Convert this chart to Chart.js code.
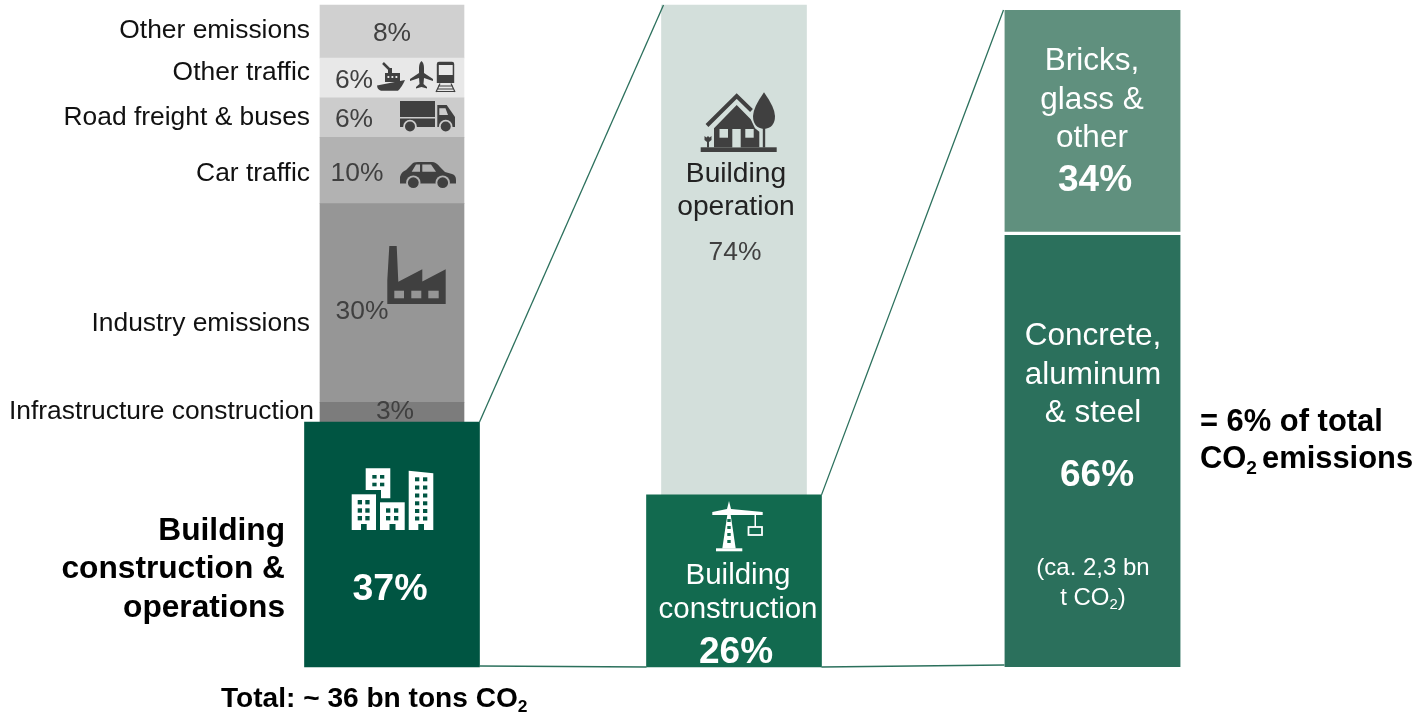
<!DOCTYPE html>
<html lang="en">
<head>
  <meta charset="UTF-8">
  <title>Building construction CO2 share</title>
  <style>
    html, body { margin: 0; background: #fff; }
    canvas { display: block; }
  </style>
  <script src="https://cdn.jsdelivr.net/npm/chart.js"></script>
</head>
<body>
  <canvas id="chart" width="1417" height="714"></canvas>

  <script>
    // data
    const totalCategories = ['Building construction & operations', 'Infrastructure construction', 'Industry emissions', 'Car traffic', 'Road freight & buses', 'Other traffic', 'Other emissions'];
    const totalValues = [37, 3, 30, 10, 6, 6, 8];
    const buildingCategories = ['Building construction', 'Building operation'];
    const buildingValues = [26, 74];
    const materialCategories = ['Concrete, aluminum & steel', 'Bricks, glass & other'];
    const materialValues = [66, 34];

    const totalColors = ['#005542', '#7c7c7c', '#969696', '#b2b2b2', '#cccccc', '#e8e8e8', '#d0d0d0'];
    const buildingColors = ['#126a4f', '#d3dfdb'];
    const materialColors = ['#2b705c', '#60907e'];
    const lineColor = '#2b705c';
    const iconColor = '#404040';
    const font = '"Liberation Sans", Arial, sans-serif';

    const ctx = document.getElementById('chart').getContext('2d');

    const datasets = [];
    totalValues.forEach((v, i) => datasets.push({
      label: totalCategories[i],
      data: [{ x: 392, y: v }],
      backgroundColor: totalColors[i],
      barThickness: i === 0 ? 175 : 144,
      yAxisID: 'y'
    }));
    buildingValues.forEach((v, i) => datasets.push({
      label: buildingCategories[i],
      data: [{ x: 734, y: v }],
      backgroundColor: buildingColors[i],
      barThickness: i === 0 ? 175 : 145,
      yAxisID: 'y'
    }));
    materialValues.forEach((v, i) => datasets.push({
      label: materialCategories[i],
      data: [{ x: 1092.5, y: v }],
      backgroundColor: materialColors[i],
      barThickness: 176,
      borderColor: '#fff',
      borderWidth: i === 0 ? { top: 2 } : { bottom: 2 },
      borderSkipped: false,
      yAxisID: 'y2'
    }));

    function text(c, s, x, y, size, color, bold, align) {
      c.font = (bold ? 'bold ' : '') + size + 'px ' + font;
      c.fillStyle = color;
      c.textAlign = align || 'center';
      c.textBaseline = 'middle';
      c.fillText(s, x, y + size * 0.06);
    }

    // text followed by a subscript 2
    function textSub(c, before, after, x, y, size, color, bold, align) {
      const weight = bold ? 'bold ' : '';
      c.font = weight + size + 'px ' + font;
      const w1 = c.measureText(before).width;
      const w3 = c.measureText(after).width;
      c.font = weight + size * 0.62 + 'px ' + font;
      const w2 = c.measureText('2').width;
      let left = x;
      if (align === 'center') left = x - (w1 + w2 + w3) / 2;
      text(c, before, left, y, size, color, bold, 'left');
      text(c, '2', left + w1, y + size * 0.3, size * 0.62, color, bold, 'left');
      if (after) text(c, after, left + w1 + w2, y, size, color, bold, 'left');
    }

    function rect(c, x0, y0, x1, y1, color) {
      c.fillStyle = color;
      c.fillRect(x0, y0, x1 - x0, y1 - y0);
    }

    function fillPath(c, d, color) {
      c.fillStyle = color;
      c.fill(new Path2D(d));
    }

    function strokePath(c, d, color, width) {
      c.strokeStyle = color;
      c.lineWidth = width;
      c.stroke(new Path2D(d));
    }

    function drawTransportIcons(c) {
      // ship
      fillPath(c, 'M377 85.5L405 80Q402 87 398 90.7L381 90.7Q377.5 90 377 85.5Z', iconColor);
      rect(c, 385, 73, 400, 82, iconColor);
      rect(c, 388, 68, 392, 74, iconColor);
      strokePath(c, 'M383 63L389 69', iconColor, 2.5);
      [387.5, 391.5, 395.5].forEach(x => rect(c, x, 76, x + 1.8, 78, '#e8e8e8'));
      // plane
      fillPath(c, 'M421.5 61Q424 63 424 68L424 73L433 79L433 81L424 78L423.5 84L427 87L427 88.5L421.5 87L416 88.5L416 87L419.5 84L419 78L410 81L410 79L419 73L419 68Q419 63 421.5 61Z', iconColor);
      // train
      fillPath(c, 'M439 61.7L452 61.7Q454.2 61.7 454.2 64L454.2 83L436.8 83L436.8 64Q436.8 61.7 439 61.7Z', iconColor);
      rect(c, 438.8, 65, 452.7, 75, '#e8e8e8');
      strokePath(c, 'M440 83.5L436 92M451 83.5L455 92M438 86L453 86M437 89L454 89M436 91.5L455 91.5', iconColor, 1.2);
      // truck
      rect(c, 400, 101, 435, 117, iconColor);
      rect(c, 400, 118.5, 435, 127, iconColor);
      fillPath(c, 'M437.3 105L446.7 105L455 117L455 127L437.3 127Z', iconColor);
      fillPath(c, 'M439.3 108.3L445.5 108.3L448 115L439.3 115Z', '#cccccc');
      [[410, 126.5], [445.7, 126.5]].forEach(p => {
        c.beginPath(); c.arc(p[0], p[1], 6.8, 0, 7); c.fillStyle = '#cccccc'; c.fill();
        c.beginPath(); c.arc(p[0], p[1], 5, 0, 7); c.fillStyle = iconColor; c.fill();
      });
      // car
      fillPath(c, 'M400 183.5L400 177Q401 172 406 170L412 164Q413 162 418 162L432 162Q436 162 440 167L445 172L452 174Q456 175 456 180L456 183.5Z', iconColor);
      fillPath(c, 'M411.7 171.7L416 164.5L420 164.5L420 171.7Z', '#b2b2b2');
      fillPath(c, 'M422.3 164.5L431 164.5L436 171.7L422.3 171.7Z', '#b2b2b2');
      [[413.3, 182.7], [442.7, 182.7]].forEach(p => {
        c.beginPath(); c.arc(p[0], p[1], 7.2, 0, 7); c.fillStyle = '#b2b2b2'; c.fill();
        c.beginPath(); c.arc(p[0], p[1], 5.4, 0, 7); c.fillStyle = iconColor; c.fill();
      });
    }

    function drawFactory(c) {
      fillPath(c, 'M389.3 246L396.7 246L398.3 281.7L422.3 269.3L422.3 281.5L445.7 269.3L445.7 304L387.3 304L387.3 280Z', iconColor);
      [[394.3, 404], [411.3, 421.3], [428.3, 438.7]].forEach(w => rect(c, w[0], 290.7, w[1], 298.3, '#969696'));
    }

    function drawBuildings(c) {
      const white = '#fff';
      const dark = '#005542';
      const win = (cols, rows, h) => cols.forEach(x => rows.forEach(y => rect(c, x, y, x + 4.3, y + h, dark)));
      fillPath(c, 'M365.7 468.3L390.3 468.3L390.3 498.3L381 498.3L381 490L365.7 490Z', white);
      win([372.3, 380], [475, 482.7], 3.6);
      rect(c, 351.7, 494.3, 376, 530, white);
      win([357.7, 365.3], [500, 508.3, 516], 4.4);
      rect(c, 361, 524, 366.7, 530, dark);
      rect(c, 380, 502.3, 404.7, 530, white);
      win([386, 394], [508.3, 516], 4.4);
      rect(c, 389.5, 524, 395.5, 530, dark);
      fillPath(c, 'M408.7 470.7L433.3 473.3L433.3 530L408.7 530Z', white);
      win([415, 423], [477.3, 485.5, 493.5, 501.3, 509, 516.5], 4);
      rect(c, 418.3, 524, 424, 530, dark);
    }

    function drawHouse(c) {
      const bg = '#d3dfdb';
      rect(c, 700.7, 147.3, 776.7, 152, iconColor);
      strokePath(c, 'M707 125.5L736.7 96L751.5 110.5', iconColor, 4);
      fillPath(c, 'M714 128.3L736.7 105L750.7 119.3L755 128.3L759.3 131.7L759.3 147.3L714 147.3Z', iconColor);
      rect(c, 719.5, 129, 728, 137.7, bg);
      rect(c, 732.3, 129, 740.7, 147.3, bg);
      rect(c, 745.3, 129, 753.7, 137.7, bg);
      fillPath(c, 'M764 92.3Q775 108 775 116Q775 128 764 129Q753 128 753 116Q753 108 764 92.3Z', iconColor);
      rect(c, 762.8, 125, 765.2, 147.5, iconColor);
      fillPath(c, 'M704.5 136L706.5 137.5L708 136L709.5 137.5L711.5 136L711.5 140L709 142L709 147.5L707 147.5L707 142L704.5 140Z', iconColor);
    }

    function drawCrane(c) {
      const white = '#fff';
      fillPath(c, 'M729 501L731 509L762.7 512L762.7 515L712.3 515L712.3 512L727 509Z', white);
      fillPath(c, 'M727.3 515L730.7 515L735.7 548.5L722.3 548.5Z', white);
      [519, 526, 533, 540].forEach(y => rect(c, 727.3, y, 730.7, y + 3, '#126a4f'));
      rect(c, 716, 548.3, 742.3, 551.3, white);
      rect(c, 754.5, 514, 756, 527, white);
      c.strokeStyle = white;
      c.lineWidth = 1.8;
      c.strokeRect(748.5, 527, 13.5, 8);
    }

    const overlay = {
      id: 'overlay',
      afterDatasetsDraw(chart) {
        const c = chart.ctx;
        const bar = i => chart.getDatasetMeta(i).data[0].getProps(['x', 'y', 'base', 'width'], true);
        const total0 = bar(0);
        const build0 = bar(7);
        const build1 = bar(8);
        const mat0 = bar(9);
        const mat1 = bar(10);
        const right = b => b.x + b.width / 2;
        const left = b => b.x - b.width / 2;

        c.save();

        // connectors between the columns
        c.strokeStyle = lineColor;
        c.lineWidth = 1.3;
        [
          [right(total0), total0.y, left(build1) + 2, build1.y],
          [right(total0), total0.base - 1, left(build0), build0.base],
          [right(build0), build0.y, left(mat1) - 1, mat1.y],
          [right(build0), build0.base, left(mat0), mat0.base - 2]
        ].forEach(l => {
          c.beginPath();
          c.moveTo(l[0], l[1]);
          c.lineTo(l[2], l[3]);
          c.stroke();
        });

        // category labels left of the first column
        const labelY = [null, 410, 322, 172, 116, 71, 29];
        totalCategories.forEach((name, i) => {
          if (i === 0) return;
          text(c, name, i === 1 ? 314 : 310, labelY[i], 26.4, '#111', false, 'right');
        });

        // value labels in the grey segments
        const pctColor = '#404040';
        const pctPos = [null, [395, 410], [362, 310], [357, 172], [354, 118], [354, 79], [392, 32]];
        totalValues.forEach((v, i) => {
          if (i === 0) return;
          text(c, v + '%', pctPos[i][0], pctPos[i][1], 26.4, pctColor, false);
        });

        text(c, 'Building', 285, 529, 31.7, '#000', true, 'right');
        text(c, 'construction &', 285, 567, 31.7, '#000', true, 'right');
        text(c, 'operations', 285, 606, 31.7, '#000', true, 'right');
        text(c, totalValues[0] + '%', 390, 587, 37.5, '#fff', true);

        text(c, 'Building', 736, 173, 28.2, '#222', false);
        text(c, 'operation', 736, 206, 28.2, '#222', false);
        text(c, buildingValues[1] + '%', 735, 251, 26.4, pctColor, false);
        text(c, 'Building', 738, 574, 29.5, '#fff', false);
        text(c, 'construction', 738, 608, 29.5, '#fff', false);
        text(c, buildingValues[0] + '%', 736, 651, 37, '#fff', true);

        text(c, 'Bricks,', 1092, 59, 31.5, '#fff', false);
        text(c, 'glass &', 1092, 98, 31.5, '#fff', false);
        text(c, 'other', 1092, 136, 31.5, '#fff', false);
        text(c, materialValues[1] + '%', 1095, 179, 37, '#fff', true);
        text(c, 'Concrete,', 1093, 334, 31.5, '#fff', false);
        text(c, 'aluminum', 1093, 373, 31.5, '#fff', false);
        text(c, '& steel', 1093, 411, 31.5, '#fff', false);
        text(c, materialValues[0] + '%', 1097, 474, 37, '#fff', true);
        text(c, '(ca. 2,3 bn', 1093, 567, 24, '#fff', false);
        textSub(c, 't CO', ')', 1093, 597, 24, '#fff', false, 'center');

        text(c, '= 6% of total', 1200, 421, 30.9, '#000', true, 'left');
        textSub(c, 'CO', '', 1200, 458, 30.9, '#000', true, 'left');
        text(c, 'emissions', 1262, 458, 30.9, '#000', true, 'left');
        textSub(c, 'Total: ~ 36 bn tons CO', '', 221, 698, 28.1, '#000', true, 'left');

        drawTransportIcons(c);
        drawFactory(c);
        drawBuildings(c);
        drawHouse(c);
        drawCrane(c);

        c.restore();
      }
    };

    new Chart(ctx, {
      type: 'bar',
      data: { datasets },
      options: {
        responsive: false,
        animation: false,
        layout: { padding: 0 },
        plugins: { legend: { display: false }, tooltip: { enabled: false } },
        scales: {
          x: { type: 'linear', display: false, stacked: true, offset: false, min: 0, max: 1417 },
          y: { display: false, stacked: true, min: -7.1, max: 100.76 },
          y2: { display: false, stacked: true, min: -7.15, max: 101.52 }
        }
      },
      plugins: [overlay]
    });
  </script>
</body>
</html>
